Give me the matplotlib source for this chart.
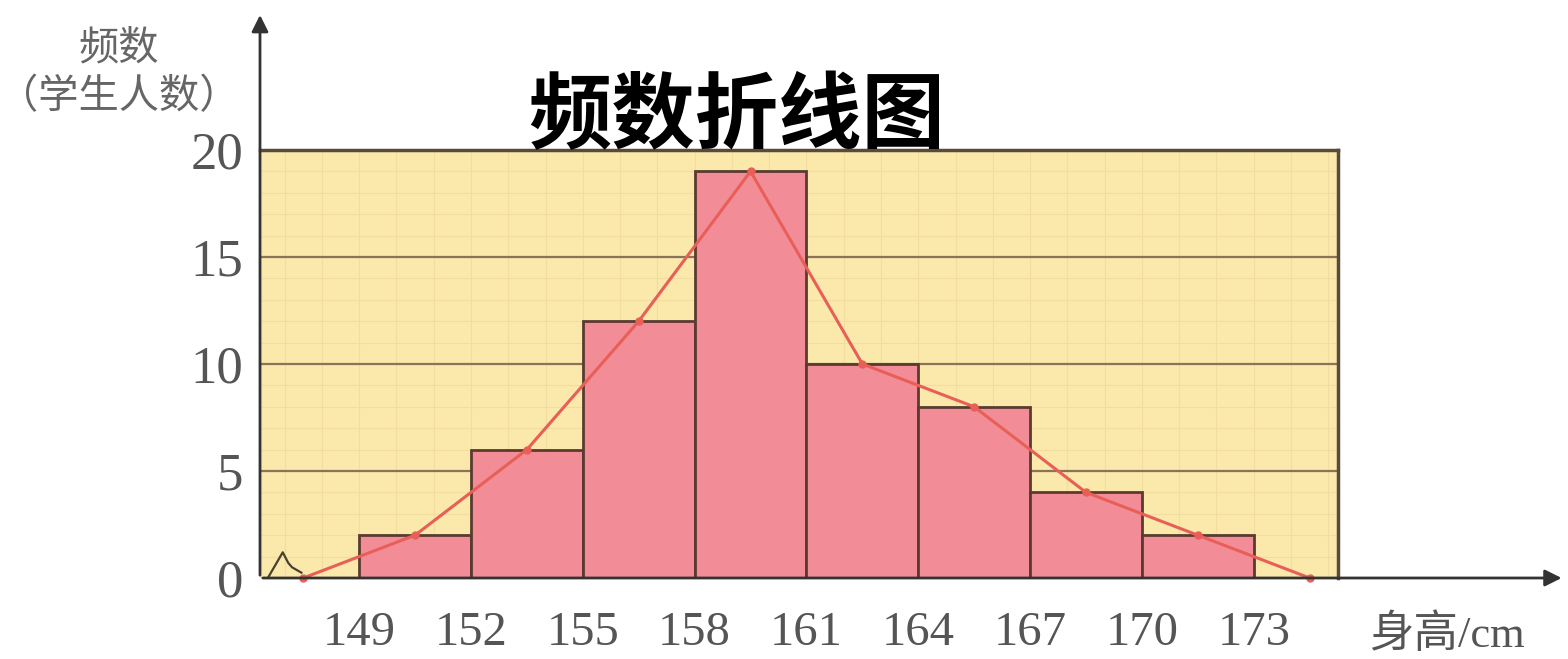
import matplotlib
matplotlib.use('Agg')
import matplotlib.pyplot as plt
import numpy as np

# 身高分组（cm）与各组学生人数
bin_edges = [149, 152, 155, 158, 161, 164, 167, 170, 173]
counts = [2, 6, 12, 19, 10, 8, 4, 2]
y_ticks = [0, 5, 10, 15, 20]
title_text = '频数折线图'
y_label = '频数\n（学生人数）'
x_label = '身高/cm'

plt.rcParams['font.family'] = ['Liberation Serif', 'Noto Sans CJK SC', 'DejaVu Sans']

edges = np.array(bin_edges, dtype=float)
width = edges[1] - edges[0]
# 折线图端点：两端各补一个频数为 0 的组中点
mids = np.concatenate([[edges[0] - width / 2], (edges[:-1] + edges[1:]) / 2, [edges[-1] + width / 2]])
poly_y = [0] + counts + [0]

fig = plt.figure(figsize=(15.68, 6.59), dpi=100)
ax = fig.add_axes([260 / 1568, 1 - 578 / 659, 1078 / 1568, 428 / 659])
ax.set_facecolor('#fae9ab')

ax.set_xlim(146.34, 175.26)
ax.set_ylim(0, 20)

# 细网格
for gx in np.arange(147, 176, 1):
    ax.axvline(gx, color='#f3dca0', lw=0.8, zorder=0)
for gy in np.arange(1, 20, 1):
    ax.axhline(gy, color='#f3dca0', lw=0.8, zorder=0)
for gy in y_ticks[1:-1]:
    ax.axhline(gy, color='#8a7358', lw=1.6, zorder=1)

ax.bar(edges[:-1], counts, width=width, align='edge', color='#f28d97',
       edgecolor='#5a3b30', linewidth=2, zorder=2)
ax.plot(mids, poly_y, color='#e85f58', lw=2.2, marker='o', markersize=5,
        markerfacecolor='#e85f58', markeredgecolor='#e85f58', zorder=3, clip_on=False)

# 坐标轴折断符号
ax.plot([146.55, 146.95, 147.1, 147.2, 147.45], [0, 1.2, 0.7, 0.5, 0.25],
        color='#4a4030', lw=1.6, zorder=3)

for side in ['left', 'bottom']:
    ax.spines[side].set_visible(False)
for side in ['top', 'right']:
    ax.spines[side].set_color('#5a4a3a')
    ax.spines[side].set_linewidth(2.5)

# 带箭头的坐标轴
ax.annotate('', xy=(0, 1.322), xycoords='axes fraction', xytext=(0, 0),
            arrowprops=dict(arrowstyle='-|>', color='#333333', lw=2, mutation_scale=25),
            annotation_clip=False)
ax.annotate('', xy=(1.21, 0), xycoords='axes fraction', xytext=(0, 0),
            arrowprops=dict(arrowstyle='-|>', color='#333333', lw=2, mutation_scale=25),
            annotation_clip=False)

ax.set_yticks(y_ticks)
ax.set_yticklabels([str(v) for v in y_ticks])
ax.set_xticks(bin_edges)
ax.set_xticklabels([str(v) for v in bin_edges])
ax.tick_params(axis='y', length=0, pad=12, labelsize=38, labelcolor='#555555')
ax.tick_params(axis='x', length=0, pad=24, labelsize=35, labelcolor='#555555')

fig.text(0.470, 0.822, title_text, ha='center', va='center', fontsize=60,
         fontweight='bold', family=['Noto Sans CJK SC'], color='black')
fig.text(0.076, 0.890, y_label, ha='center', va='center', fontsize=29,
         family=['Noto Sans CJK SC'], color='#666666', linespacing=1.25)
fig.text(0.873, 0.036, x_label, ha='left', va='center', fontsize=32,
         color='#555555')

fig.savefig('out.png', dpi=100)
